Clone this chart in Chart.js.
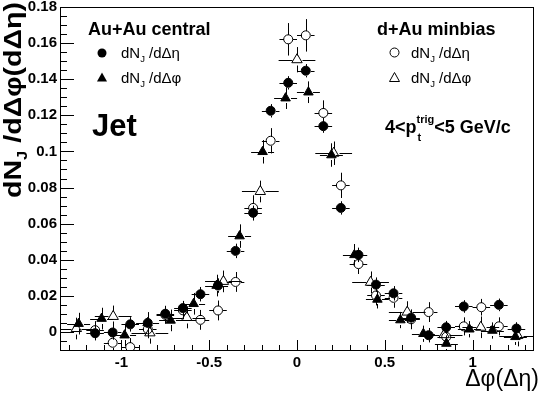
<!DOCTYPE html>
<html><head><meta charset="utf-8">
<script src="https://cdn.jsdelivr.net/npm/chart.js@4/dist/chart.umd.min.js"></script>
<style>html,body{margin:0;padding:0;background:#fff;overflow:hidden}</style>
</head><body>
<canvas id="c" width="541" height="393"></canvas>
<script>
// ---------- data ----------
const xTicks = [-1, -0.5, 0, 0.5, 1];
const xTickLabels = ['-1', '-0.5', '0', '0.5', '1'];
const yTicks = [0, 0.02, 0.04, 0.06, 0.08, 0.1, 0.12, 0.14, 0.16, 0.18];
const yTickLabels = ['0', '0.02', '0.04', '0.06', '0.08', '0.1', '0.12', '0.14', '0.16', '0.18'];

// Au+Au central, dN_J/dDeta (filled circles)
const auauEtaX = [-1.15,-1.05,-0.95,-0.85,-0.75,-0.65,-0.55,-0.45,-0.35,-0.25,-0.15,-0.05,0.05,0.15,0.25,0.35,0.45,0.55,0.65,0.75,0.85,0.95,1.15,1.25];
const auauEtaY = [-0.0007,-0.0003,0.0042,0.0050,0.0101,0.0132,0.0209,0.0257,0.0449,0.0660,0.1225,0.1380,0.1447,0.1140,0.0687,0.0427,0.0262,0.0214,0.0079,-0.0018,0.0026,0.0141,0.0150,0.0019];
const auauEtaXErr = [0.05,0.05,0.05,0.05,0.05,0.05,0.05,0.05,0.05,0.05,0.05,0.05,0.05,0.05,0.05,0.05,0.05,0.05,0.05,0.05,0.05,0.05,0.05,0.05];
const auauEtaYErr = [0.004,0.004,0.004,0.004,0.004,0.004,0.004,0.004,0.004,0.004,0.0037,0.0037,0.0037,0.0037,0.0037,0.004,0.004,0.004,0.004,0.004,0.0035,0.0035,0.0035,0.0035];

// Au+Au central, dN_J/dDphi (filled triangles)
const auauPhiX = [-1.244,-1.113,-0.982,-0.851,-0.720,-0.589,-0.458,-0.327,-0.196,-0.065,0.065,0.196,0.327,0.458,0.589,0.720,0.851,0.982,1.113,1.244];
const auauPhiY = [0.0046,0.0074,-0.0018,0.0050,0.0064,0.0156,0.0257,0.0531,0.0998,0.1295,0.1328,0.0980,0.0427,0.0180,0.0066,-0.0010,-0.0064,0.0015,0.0008,-0.0027];
const auauPhiXErr = [0.0654,0.0654,0.0654,0.0654,0.0654,0.0654,0.0654,0.0654,0.0654,0.0654,0.0654,0.0654,0.0654,0.0654,0.0654,0.0654,0.0654,0.0654,0.0654,0.0654];
const auauPhiYErr = [0.006,0.006,0.006,0.006,0.006,0.006,0.006,0.0065,0.0065,0.006,0.006,0.0065,0.006,0.005,0.0045,0.0045,0.0045,0.0045,0.0045,0.0045];

// d+Au minbias, dN_J/dDeta (open circles)
const dauEtaX = [-1.15,-1.05,-0.95,-0.85,-0.75,-0.65,-0.55,-0.45,-0.35,-0.25,-0.15,-0.05,0.05,0.15,0.25,0.35,0.45,0.55,0.65,0.75,0.85,0.95,1.05,1.15];
const dauEtaY = [0.0010,-0.0060,-0.0084,0.0015,0.0095,0.0120,0.0067,0.0119,0.0277,0.0687,0.1059,0.1621,0.1643,0.1213,0.0812,0.0376,0.0202,0.0189,0.0070,0.0110,-0.0027,0.0031,0.0137,0.0031];
const dauEtaXErr = [0.05,0.05,0.05,0.05,0.05,0.05,0.05,0.05,0.05,0.05,0.05,0.05,0.05,0.05,0.05,0.05,0.05,0.05,0.05,0.05,0.05,0.05,0.05,0.05];
const dauEtaYErr = [0.005,0.005,0.005,0.005,0.005,0.005,0.0055,0.0055,0.0055,0.007,0.007,0.009,0.009,0.007,0.007,0.0055,0.0055,0.0055,0.0055,0.0055,0.005,0.005,0.0046,0.005];

// d+Au minbias, dN_J/dDphi (open triangles)
const dauPhiX = [-1.257,-1.047,-0.838,-0.628,-0.419,-0.209,0,0.209,0.419,0.628,0.838,1.047,1.257];
const dauPhiY = [0.0019,0.0086,-0.0005,0.0080,0.0280,0.0778,0.1508,0.0990,0.0275,0.0110,-0.0015,0.0026,-0.0020];
const dauPhiXErr = [0.1047,0.1047,0.1047,0.1047,0.1047,0.1047,0.1047,0.1047,0.1047,0.1047,0.1047,0.1047,0.1047];
const dauPhiYErr = [0.006,0.006,0.006,0.006,0.006,0.006,0.007,0.0065,0.006,0.006,0.006,0.006,0.006];

// ---------- helpers ----------
const FAM = '"Liberation Sans", Arial, Helvetica, sans-serif';
function pts(xs, ys) { return xs.map((x, i) => ({ x: x, y: ys[i] })); }

function richWidth(ctx, parts) {
  let w = 0;
  parts.forEach(p => { ctx.font = (p.b ? 'bold ' : '') + p.s + 'px ' + FAM; w += ctx.measureText(p.t).width; });
  return w;
}
function drawRich(ctx, x, y, parts) {
  let cx = x;
  parts.forEach(p => {
    ctx.font = (p.b ? 'bold ' : '') + p.s + 'px ' + FAM;
    ctx.fillText(p.t, cx, y + (p.dy || 0));
    cx += ctx.measureText(p.t).width;
  });
  return cx;
}

// error bars (drawn through the chart's scales)
const errorBars = {
  id: 'errorBars',
  beforeDatasetsDraw(chart) {
    const { ctx, scales: { x, y } } = chart;
    const L = x.getPixelForValue(x.min), R = x.getPixelForValue(x.max);
    const T = y.getPixelForValue(y.max), B = y.getPixelForValue(y.min);
    ctx.save();
    ctx.beginPath(); ctx.rect(L, T, R - L, B - T); ctx.clip();
    ctx.strokeStyle = '#000'; ctx.lineWidth = 1;
    chart.data.datasets.forEach(ds => {
      const g = ds.barGap;
      ds.data.forEach((p, i) => {
        const px = Math.round(x.getPixelForValue(p.x)) + 0.5;
        const py = Math.round(y.getPixelForValue(p.y)) + 0.5;
        const xl = x.getPixelForValue(p.x - ds.errX[i]);
        const xr = x.getPixelForValue(p.x + ds.errX[i]);
        const yt = y.getPixelForValue(p.y + ds.errY[i]);
        const yb = y.getPixelForValue(p.y - ds.errY[i]);
        ctx.beginPath();
        if (px - g > xl) { ctx.moveTo(xl, py); ctx.lineTo(px - g, py); }
        if (xr > px + g) { ctx.moveTo(px + g, py); ctx.lineTo(xr, py); }
        if (py - g > yt) { ctx.moveTo(px, yt); ctx.lineTo(px, py - g); }
        if (yb > py + g) { ctx.moveTo(px, py + g); ctx.lineTo(px, yb); }
        ctx.stroke();
      });
    });
    ctx.restore();
  }
};

// frame, inward ticks, legend, annotations
const decor = {
  id: 'decor',
  afterDraw(chart) {
    const { ctx, scales: { x, y } } = chart;
    const L = Math.round(x.getPixelForValue(x.min)), R = Math.round(x.getPixelForValue(x.max));
    const T = Math.round(y.getPixelForValue(y.max)), B = Math.round(y.getPixelForValue(y.min));
    ctx.save();
    ctx.strokeStyle = '#000'; ctx.lineWidth = 1;
    ctx.strokeRect(L + 0.5, T + 0.5, R - L - 1, B - T);
    ctx.beginPath();
    for (let i = -13; i <= 13; i++) {
      const px = Math.round(x.getPixelForValue(i / 10)) + 0.5;
      const len = (i % 5 === 0) ? 10 : 5;
      ctx.moveTo(px, B); ctx.lineTo(px, B - len);
    }
    for (let i = -1; i <= 36; i++) {
      const py = Math.round(y.getPixelForValue(i * 0.005)) + 0.5;
      const len = (i % 4 === 0) ? 14 : 7;
      ctx.moveTo(L, py); ctx.lineTo(L + len, py);
    }
    ctx.stroke();

    ctx.fillStyle = '#000';
    ctx.textBaseline = 'alphabetic'; ctx.textAlign = 'left';
    // legend: Au+Au central
    drawRich(ctx, 88, 35, [{ t: 'Au+Au central', s: 18, b: true }]);
    ctx.beginPath(); ctx.arc(102, 53, 4.5, 0, Math.PI * 2); ctx.fill();
    ctx.beginPath(); ctx.moveTo(102, 72.5); ctx.lineTo(107, 81.5); ctx.lineTo(97, 81.5); ctx.closePath(); ctx.fill();
    const e1 = [{ t: 'dN', s: 15 }, { t: 'J', s: 9.5, dy: 4 }, { t: ' /d\u0394\u03B7', s: 15 }];
    const e2 = [{ t: 'dN', s: 15 }, { t: 'J', s: 9.5, dy: 4 }, { t: ' /d\u0394\u03C6', s: 15 }];
    drawRich(ctx, 121, 58, e1);
    drawRich(ctx, 121, 83, e2);
    // legend: d+Au minbias
    drawRich(ctx, 377, 35, [{ t: 'd+Au minbias', s: 18, b: true }]);
    ctx.beginPath(); ctx.arc(394.5, 52.5, 4.5, 0, Math.PI * 2); ctx.stroke();
    ctx.beginPath(); ctx.moveTo(394.5, 72.5); ctx.lineTo(399.5, 81.5); ctx.lineTo(389.5, 81.5); ctx.closePath(); ctx.stroke();
    drawRich(ctx, 411, 58, e1);
    drawRich(ctx, 411, 83, e2);
    // Jet
    drawRich(ctx, 92, 136, [{ t: 'Jet', s: 31, b: true }]);
    // 4<pt^trig<5 GeV/c
    let cx = drawRich(ctx, 385, 133, [{ t: '4<p', s: 18, b: true }]);
    drawRich(ctx, cx + 1, 141, [{ t: 't', s: 11, b: true }]);
    cx = drawRich(ctx, cx, 123, [{ t: 'trig', s: 11, b: true }]);
    drawRich(ctx, cx, 133, [{ t: '<5 GeV/c', s: 18, b: true }]);

    // x axis title
    ctx.textAlign = 'right';
    ctx.font = '23px ' + FAM;
    ctx.fillText('\u0394\u03C6(\u0394\u03B7)', 539, 386);
    ctx.textAlign = 'left';

    // y axis title (rotated, aligned to top end)
    const yt = [{ t: 'dN', s: 24, b: true }, { t: 'J', s: 14, b: true, dy: 6 }, { t: ' /d\u0394\u03C6(d\u0394\u03B7)', s: 24, b: true }];
    const w = richWidth(ctx, yt);
    ctx.save();
    ctx.translate(21, 2);
    ctx.rotate(-Math.PI / 2);
    ctx.scale(196 / w, 1);
    drawRich(ctx, -w, 0, yt);
    ctx.restore();
    ctx.restore();
  }
};

const tickFont = { family: FAM, size: 15, weight: 'bold' };

new Chart(document.getElementById('c'), {
  type: 'scatter',
  data: {
    datasets: [
      { label: 'AuAu eta', data: pts(auauEtaX, auauEtaY), errX: auauEtaXErr, errY: auauEtaYErr, barGap: 4.5,
        pointStyle: 'circle', pointRadius: 4.5, backgroundColor: '#000', borderColor: '#000', borderWidth: 1 },
      { label: 'AuAu phi', data: pts(auauPhiX, auauPhiY), errX: auauPhiXErr, errY: auauPhiYErr, barGap: 4.5,
        pointStyle: 'triangle', pointRadius: 5.5, backgroundColor: '#000', borderColor: '#000', borderWidth: 1 },
      { label: 'dAu eta', data: pts(dauEtaX, dauEtaY), errX: dauEtaXErr, errY: dauEtaYErr, barGap: 4.5,
        pointStyle: 'circle', pointRadius: 4.5, backgroundColor: 'rgba(0,0,0,0)', borderColor: '#000', borderWidth: 1 },
      { label: 'dAu phi', data: pts(dauPhiX, dauPhiY), errX: dauPhiXErr, errY: dauPhiYErr, barGap: 5,
        pointStyle: 'triangle', pointRadius: 6, backgroundColor: 'rgba(0,0,0,0)', borderColor: '#000', borderWidth: 1 }
    ]
  },
  options: {
    responsive: false, animation: false, devicePixelRatio: 1,
    layout: { padding: { top: 4, right: 2, left: 0, bottom: 0 } },
    plugins: { legend: { display: false }, tooltip: { enabled: false } },
    elements: { point: { hoverRadius: 4.5 } },
    scales: {
      x: {
        type: 'linear', min: -1.35, max: 1.35,
        afterBuildTicks: s => { s.ticks = xTicks.map(v => ({ value: v })); },
        afterFit: s => { s.height = 43; s.paddingLeft = 0; s.paddingRight = 0; },
        grid: { display: false, drawTicks: false }, border: { display: false },
        ticks: { font: tickFont, color: '#000', padding: 4, maxRotation: 0, autoSkip: false,
                 callback: (v, i) => xTickLabels[i] }
      },
      y: {
        type: 'linear', min: -0.01, max: 0.18,
        afterBuildTicks: s => { s.ticks = yTicks.map(v => ({ value: v })); },
        afterFit: s => { s.width = 60; s.paddingTop = 0; s.paddingBottom = 0; },
        grid: { display: false, drawTicks: false }, border: { display: false },
        ticks: { font: tickFont, color: '#000', padding: 3, autoSkip: false,
                 callback: (v, i) => yTickLabels[i] }
      }
    }
  },
  plugins: [errorBars, decor]
});
</script>
</body></html>
